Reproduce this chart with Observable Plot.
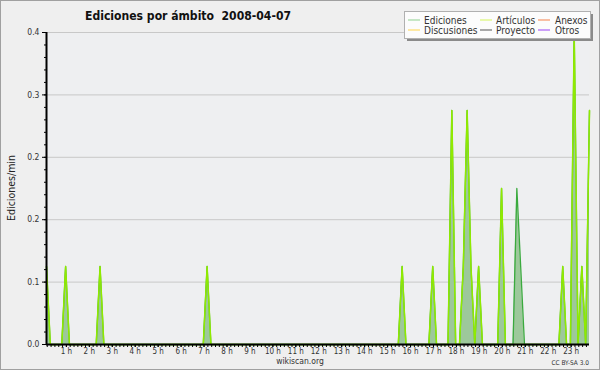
<!DOCTYPE html>
<html>
<head>
<meta charset="utf-8">
<script src="https://cdn.jsdelivr.net/npm/d3@7"></script>
<script src="https://cdn.jsdelivr.net/npm/@observablehq/plot@0.6"></script>
<style>
  html, body { margin: 0; padding: 0; background: #efefef; }
  svg { display: block; }
</style>
</head>
<body>
<div id="chart"></div>
<script>
// ---- data ----
const title = "Ediciones por ámbito  2008-04-07";
const yLabel = "Ediciones/min";
const times = ["00:08","00:18","00:48","00:58","01:08","02:18","02:28","02:38",
  "06:58","07:08","07:18","15:28","15:38","15:48","16:48","16:58","17:08",
  "17:38","17:48","17:58","18:08","18:18","18:28","18:38","18:48","18:58","19:08",
  "19:48","19:58","20:08","20:28","20:38","20:48","20:58",
  "22:28","22:38","22:48","22:58","23:08","23:18","23:28","23:38","23:48"];
const ediciones = [0.1,0,0,0.1,0,0,0.1,0,
  0,0.1,0,0,0.1,0,0,0.1,0,
  0,0.3,0,0,0.1,0.3,0.1,0,0.1,0,
  0,0.2,0,0,0.2,0.1,0,
  0,0.1,0,0,0.4,0,0.1,0,0.3];
const articulos = [0.1,0,0,0.1,0,0,0.1,0,
  0,0.1,0,0,0.1,0,0,0.1,0,
  0,0.3,0,0,0.1,0.3,0.1,0,0.1,0,
  0,0.2,0,0,0,0,0,
  0,0.1,0,0,0.4,0,0.1,0,0.3];
const hours = d3.range(1, 24);
const hourLabels = hours.map(h => `${h} h`);
const yMajor = [0, 0.08, 0.16, 0.24, 0.32, 0.4];
const yMinor = d3.range(0, 0.4001, 0.016);
const legendNames = ["Ediciones", "Discusiones", "Artículos", "Proyecto", "Anexos", "Otros"];
const legendColors = ["#8fd18f", "#ffd54a", "#d4f55a", "#555555", "#f5814a", "#9b42f5"];
const footerLeft = "wikiscan.org";
const footerRight = "CC BY-SA 3.0";

// ---- build ----
const toMin = s => +s.slice(0, 2) * 60 + +s.slice(3);
const data = times.map((t, i) => ({t: toMin(t), total: ediciones[i], art: articulos[i]}));
const font = "'DejaVu Sans Condensed', 'DejaVu Sans', sans-serif";

const svg = Plot.plot({
  width: 600, height: 370,
  marginLeft: 46, marginRight: 11, marginTop: 32, marginBottom: 26,
  style: {background: "#efefef", fontFamily: font, fontSize: "8px", color: "#333"},
  x: {domain: [8, 1428], axis: null},
  y: {domain: [0, 0.4], axis: null},
  marks: [
    Plot.frame({fill: "#eeeff1", stroke: "none"}),
    Plot.gridY(yMajor.slice(1), {stroke: "#c8c8c8", strokeOpacity: 1}),
    Plot.areaY(data, {x: "t", y: "total", fill: "#9dc89b"}),
    Plot.lineY(data, {x: "t", y: "total", stroke: "#3aaa3e", strokeWidth: 1.3}),
    Plot.lineY(data, {x: "t", y: "art", stroke: "#90ea00", strokeWidth: 1.5}),
    Plot.axisY(yMajor, {tickFormat: d3.format(".1f"), tickSize: 4, tickPadding: 3, label: null, stroke: "#000", fill: "#333", fontSize: 8.5}),
    Plot.axisY(yMinor, {tickFormat: () => "", tickSize: 2, label: null, stroke: "#000"}),
    Plot.axisX(d3.range(10, 1428, 10), {tickFormat: () => "", tickSize: 3, label: null, stroke: "#000"}),
    Plot.axisX(hours.map(h => h * 60), {tickFormat: (d, i) => hourLabels[i], tickSize: 3, tickPadding: 1, label: null, stroke: "#000", fill: "#333", fontSize: 8}),
    Plot.ruleY([0], {stroke: "#000", strokeWidth: 2}),
    Plot.ruleX([8], {stroke: "#000", strokeWidth: 2})
  ]
});

const s = d3.select(svg);
// outer border
s.append("rect").attr("x", 0.5).attr("y", 0.5).attr("width", 599).attr("height", 369)
  .attr("fill", "none").attr("stroke", "#a0a0a0");
// title
s.append("text").attr("x", 85).attr("y", 20).attr("text-anchor", "start").text(title)
  .attr("font-family", font).attr("font-weight", "bold").attr("font-size", 12.5).attr("fill", "#111")
  .attr("textLength", 206).attr("lengthAdjust", "spacingAndGlyphs");
// y label
s.append("text").attr("transform", "translate(15,188) rotate(-90)").attr("text-anchor", "middle")
  .attr("font-family", font).attr("font-size", 10.5).attr("fill", "#222").text(yLabel);
// footer
s.append("text").attr("x", 300).attr("y", 364).attr("text-anchor", "middle")
  .attr("font-family", font).attr("font-size", 8.5).attr("fill", "#333").text(footerLeft);
s.append("text").attr("x", 589).attr("y", 365).attr("text-anchor", "end")
  .attr("font-family", font).attr("font-size", 6.5).attr("fill", "#333").text(footerRight);
// legend
const lg = s.append("g").attr("text-anchor", "start");
lg.append("rect").attr("x", 407).attr("y", 14).attr("width", 186).attr("height", 27).attr("fill", "#8a8a8a");
lg.append("rect").attr("x", 404.5).attr("y", 11.5).attr("width", 186).attr("height", 27)
  .attr("fill", "#fcfcfc").attr("stroke", "#b0b0b0");
const cols = [[408, 424], [480, 496], [538, 555]];
legendNames.forEach((name, i) => {
  const c = cols[Math.floor(i / 2)], row = i % 2;
  const y = 20 + row * 10;
  lg.append("line").attr("x1", c[0]).attr("x2", c[0] + 12).attr("y1", y).attr("y2", y)
    .attr("stroke", legendColors[i]).attr("stroke-width", 1);
  lg.append("text").attr("x", c[1]).attr("y", y + 3.5).attr("font-family", font)
    .attr("font-size", 10).attr("fill", "#333").text(name);
});

document.getElementById("chart").appendChild(svg);
</script>
</body>
</html>
